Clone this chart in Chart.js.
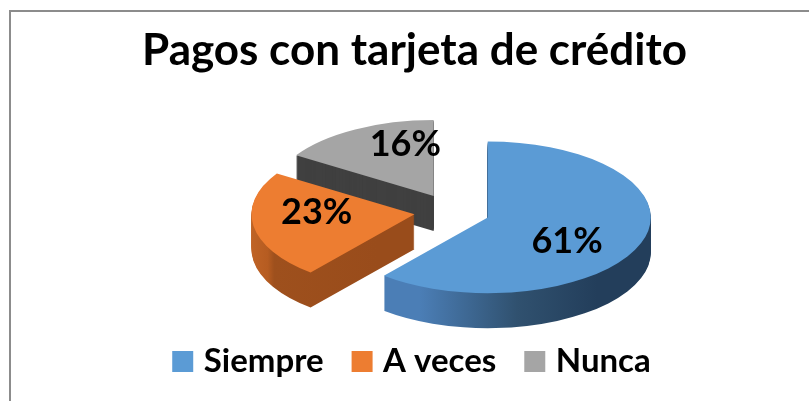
<!DOCTYPE html>
<html lang="es">
<head>
<meta charset="utf-8">
<title>Pagos con tarjeta de crédito</title>
<script src="https://cdn.jsdelivr.net/npm/chart.js@4.4.1/dist/chart.umd.min.js"></script>
<style>
  html, body { margin: 0; padding: 0; background: #fff; }
  #wrap { position: relative; width: 809px; height: 401px; }
</style>
</head>
<body>
<div id="wrap"><canvas id="chart" width="809" height="401"></canvas></div>
<script>
// --- Data ---
const categories = ['Siempre', 'A veces', 'Nunca'];
const shares = [61, 23, 16];

// --- Look ---
const topColors = ['#5b9bd5', '#ed7d31', '#a5a5a5'];
const FONT = 'Lato, "Open Sans", sans-serif';

// side wall shading, built per slice in the slice's own coordinates
const sideFill = (ctx, el, i, ox) => {
  const r = el.outerRadius;
  const vx = el.x + ox;
  let g;
  if (i === 0) {
    g = ctx.createLinearGradient(vx + r * Math.cos(el.endAngle), 0, vx + r * 0.45, 0);
    g.addColorStop(0, '#4b7eb6');
    g.addColorStop(0.55, '#30516f');
    g.addColorStop(1, '#233e5b');
  } else if (i === 1) {
    g = ctx.createLinearGradient(vx - r, 0, vx, 0);
    g.addColorStop(0, '#d47430');
    g.addColorStop(0.33, '#b65c21');
    g.addColorStop(0.37, '#9e501d');
    g.addColorStop(1, '#994c1b');
  } else {
    g = '#404040';
  }
  return g;
};

// draw one slice through the arc element itself, with another fill and a shift
const paint = (ctx, el, fill, dx, dy) => {
  const face = Object.create(el);
  face.options = Object.assign({}, el.options, { backgroundColor: fill, borderWidth: 0, offset: 0, spacing: 0 });
  ctx.save();
  ctx.translate(dx, dy);
  face.draw(ctx);
  ctx.restore();
};

// tilted, extruded and exploded pie, the way the spreadsheet draws it
const pie3d = {
  id: 'pie3d',
  beforeDraw(chart) {
    const { ctx, width, height } = chart;
    ctx.save();
    ctx.fillStyle = '#fff';
    ctx.fillRect(0, 0, width, height);
    ctx.strokeStyle = '#8c8c8c';
    ctx.lineWidth = 2;
    ctx.beginPath();
    ctx.moveTo(10, height + 2);
    ctx.lineTo(10, 11);
    ctx.lineTo(width + 2, 11);
    ctx.stroke();
    ctx.restore();
  },
  beforeDatasetDraw(chart, args, opts) {
    const ctx = chart.ctx;
    const meta = chart.getDatasetMeta(args.index);
    const arcs = meta.data;
    if (!arcs.length) return false;
    const cx = arcs[0].x, cy = arcs[0].y;
    const k = opts.tilt, blow = opts.explode;
    const order = arcs.map((a, i) => i).reverse(); // back slices first

    const away = (el) => {
      const h = (el.startAngle + el.endAngle) / 2;
      return { dx: Math.cos(h) * blow, dy: Math.sin(h) * blow };
    };

    ctx.save();
    ctx.translate(cx + opts.shiftX, cy + opts.shiftY);
    ctx.scale(1, k);
    ctx.translate(-cx, -cy);

    order.forEach(i => {
      const el = arcs[i];
      const { dx, dy } = away(el);
      const fill = sideFill(ctx, el, i, dx);
      for (let s = opts.depth; s >= 1; s--) paint(ctx, el, fill, dx, dy + s / k);
    });
    order.forEach(i => {
      const el = arcs[i];
      const { dx, dy } = away(el);
      paint(ctx, el, el.options.backgroundColor, dx, dy);
    });
    ctx.restore();

    // percentage labels on the top faces (best-fit spot inside each slice)
    const data = chart.data.datasets[args.index].data;
    const total = data.reduce((a, b) => a + b, 0);
    ctx.save();
    ctx.font = `bold ${opts.labelSize}px ${FONT}`;
    ctx.fillStyle = '#000';
    ctx.textAlign = 'center';
    ctx.textBaseline = 'middle';
    arcs.forEach((el, i) => {
      const { dx, dy } = away(el);
      const [af, rf] = opts.labelAt[i];
      const a = el.startAngle + (el.endAngle - el.startAngle) * af;
      const ux = cx + dx + Math.cos(a) * el.outerRadius * rf;
      const uy = cy + dy + Math.sin(a) * el.outerRadius * rf;
      const pct = Math.round(data[i] / total * 100) + '%';
      ctx.fillText(pct, ux + opts.shiftX, cy + opts.shiftY + (uy - cy) * k);
    });
    ctx.restore();
    return false;
  }
};

const baseLabels = Chart.overrides.doughnut.plugins.legend.labels.generateLabels;

const draw = () => {
  new Chart(document.getElementById('chart'), {
    type: 'pie',
    data: {
      labels: categories,
      datasets: [{
        data: shares,
        backgroundColor: topColors,
        borderWidth: 0,
        offset: 0,
        hoverOffset: 0,
        clip: false
      }]
    },
    options: {
      responsive: false,
      animation: false,
      events: [],
      radius: 163,
      layout: { padding: { top: 11, left: 20, right: 0, bottom: 13 } },
      plugins: {
        title: {
          display: true,
          text: 'Pagos con tarjeta de crédito',
          color: '#000',
          font: { family: FONT, size: 44, weight: 'bold' },
          padding: { top: 13, bottom: 29 }
        },
        legend: {
          position: 'bottom',
          labels: {
            color: '#000',
            font: { family: FONT, size: 33, weight: 'bold' },
            boxWidth: 9,
            boxHeight: 9,
            padding: 34,
            generateLabels: (chart) => baseLabels(chart).map(it =>
              Object.assign(it, { lineWidth: 12, strokeStyle: it.fillStyle, lineJoin: 'miter' }))
          }
        },
        tooltip: { enabled: false },
        pie3d: {
          tilt: 0.465,
          depth: 35,
          explode: 38,
          shiftX: 37.5,
          shiftY: 3,
          labelSize: 36,
          labelAt: [[0.56, 0.58], [0.63, 0.60], [0.75, 0.70]]
        }
      }
    },
    plugins: [pie3d]
  });
};

if (document.fonts && document.fonts.load) {
  document.fonts.load(`bold 33px ${FONT}`).then(draw, draw);
} else {
  draw();
}
</script>
</body>
</html>
